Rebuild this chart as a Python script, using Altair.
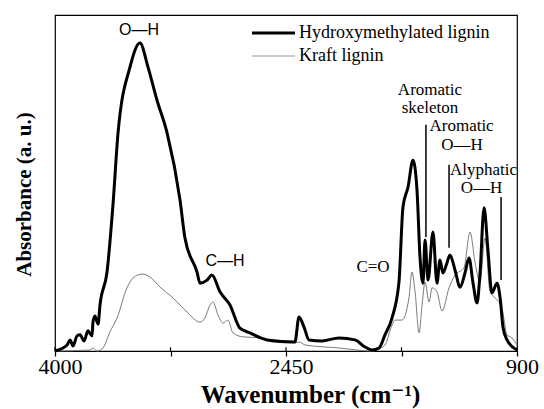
import altair as alt
import pandas as pd

# Hydroxymethylated lignin (thick)
hm_wn = [4000, 3919, 3899, 3879, 3852, 3832, 3805, 3779, 3752, 3745, 3732, 3711, 3698, 3651, 3611, 3577,
         3497, 3430, 3376, 3316, 3248, 3161, 3128, 3047, 3027, 2980, 2947, 2893, 2826, 2759, 2692,
         2577, 2390, 2363, 2329, 2296, 2208, 2094, 1987, 1920, 1873, 1826, 1786, 1739, 1692, 1665,
         1631, 1598, 1571, 1551, 1531, 1517, 1497, 1464, 1437, 1417, 1397, 1370, 1350, 1316, 1282,
         1249, 1222, 1195, 1168, 1148, 1121, 1095, 1068, 1034, 1014, 994, 967, 900]
hm_abs = [0.0, 0.018, 0.033, 0.015, 0.045, 0.048, 0.030, 0.060, 0.045, 0.086, 0.104, 0.080, 0.137, 0.235, 0.435, 0.649,
          0.845, 0.917, 0.845, 0.747, 0.649, 0.449, 0.336, 0.235, 0.202, 0.211, 0.226, 0.176, 0.137, 0.068, 0.054,
          0.033, 0.027, 0.101, 0.071, 0.033, 0.030, 0.039, 0.033, 0.012, 0.003, 0.009, 0.048, 0.098, 0.205, 0.429,
          0.488, 0.568, 0.479, 0.280, 0.202, 0.330, 0.211, 0.354, 0.202, 0.271, 0.232, 0.262, 0.286, 0.241, 0.190,
          0.232, 0.277, 0.202, 0.143, 0.232, 0.426, 0.301, 0.173, 0.202, 0.161, 0.071, 0.033, 0.003]

# Kraft lignin (thin)
kl_wn = [4000, 3765, 3745, 3718, 3678, 3631, 3584, 3517, 3477, 3416, 3362, 3295, 3208, 3114, 3027, 2994,
         2960, 2940, 2906, 2873, 2839, 2806, 2739, 2624, 2544, 2390, 2363, 2322, 2094, 1873, 1786, 1739,
         1719, 1672, 1625, 1605, 1584, 1557, 1537, 1517, 1490, 1470, 1437, 1403, 1356, 1316, 1256, 1215,
         1182, 1148, 1115, 1081, 1034, 1001, 967, 934, 913, 900]
kl_abs = [0.0, 0.003, 0.009, 0.0, 0.009, 0.057, 0.098, 0.188, 0.217, 0.229, 0.220, 0.190, 0.158, 0.116, 0.086, 0.098,
          0.137, 0.146, 0.107, 0.083, 0.092, 0.054, 0.042, 0.039, 0.027, 0.024, 0.027, 0.018, 0.009, 0.0, 0.018, 0.077,
          0.092, 0.092, 0.158, 0.235, 0.176, 0.054, 0.137, 0.205, 0.146, 0.188, 0.176, 0.119, 0.188, 0.226, 0.247, 0.354,
          0.265, 0.205, 0.336, 0.176, 0.152, 0.128, 0.048, 0.039, 0.027, 0.018]

tick_vals = [4000, 3225, 2450, 1675, 900]

sans_labels = ["O\u2014H", "C\u2014H"]
sans_wn = [3436, 2859]
sans_abs = [0.955, 0.268]

serif_labels = ["C=O", "Aromatic", "skeleton", "Aromatic", "O\u2014H", "Alyphatic", "O\u2014H"]
serif_wn = [1866, 1484, 1484, 1272, 1269, 1125, 1138]
serif_abs = [0.25, 0.777, 0.723, 0.670, 0.612, 0.539, 0.485]

rule_wn = [1511, 1356, 1007]
rule_top = [0.673, 0.554, 0.458]
rule_bot = [0.339, 0.307, 0.211]

SERIF = "'Liberation Serif', 'Times New Roman', 'DejaVu Serif', serif"
SANS = "'Liberation Sans', Arial, sans-serif"

hm = pd.DataFrame({"wn": hm_wn, "a": hm_abs})
kl = pd.DataFrame({"wn": kl_wn, "a": kl_abs})
ticks_df = pd.DataFrame({"wn": tick_vals, "y0": [0.0] * len(tick_vals), "y1": [0.011] * len(tick_vals)})

xscale = alt.Scale(domain=[900, 4000], reverse=True, nice=False, zero=False)
yscale = alt.Scale(domain=[0, 1], nice=False)

xaxis = alt.Axis(values=tick_vals,
                 labelExpr="(datum.value==3225||datum.value==1675) ? '' : datum.label",
                 format="d", labelFont=SERIF, labelFontSize=22, labelColor="black",
                 labelFlush=False, labelPadding=0, labelOffset=5, tickSize=5, tickColor="black",
                 tickWidth=1.2, domainColor="black", grid=False,
                 title="Wavenumber (cm\u207B\u00B9)", titleFont=SERIF, titleFontSize=25,
                 titleFontWeight="bold", titleColor="black",
                 titleX=255, titleY=51, titleAlign="center", titleBaseline="alphabetic")
yaxis = alt.Axis(labels=False, ticks=False, domain=False, grid=False,
                 title="Absorbance (a. u.)", titleFont=SERIF, titleFontSize=21,
                 titleFontWeight="bold", titleColor="black",
                 titleX=-31, titleY=179, titleAlign="center", titleBaseline="middle", titleAngle=270)

kl_line = alt.Chart(kl).mark_line(color="#7a7a7a", strokeWidth=1, interpolate="monotone").encode(
    x=alt.X("wn:Q", scale=xscale, axis=xaxis),
    y=alt.Y("a:Q", scale=yscale, axis=yaxis),
    order=alt.Order("wn:Q", sort="descending"),
)
hm_line = alt.Chart(hm).mark_line(color="black", strokeWidth=3, strokeJoin="round",
                                  interpolate="monotone").encode(
    x=alt.X("wn:Q", scale=xscale),
    y=alt.Y("a:Q", scale=yscale),
    order=alt.Order("wn:Q", sort="descending"),
)
inner_ticks = alt.Chart(ticks_df).mark_rule(color="black", strokeWidth=1.2).encode(
    x=alt.X("wn:Q", scale=xscale), y=alt.Y("y0:Q", scale=yscale), y2="y1:Q")

sans_df = pd.DataFrame({"t": sans_labels, "wn": sans_wn, "a": sans_abs})
serif_df = pd.DataFrame({"t": serif_labels, "wn": serif_wn, "a": serif_abs})
rule_df = pd.DataFrame({"wn": rule_wn, "a1": rule_top, "a2": rule_bot})

sans_txt = alt.Chart(sans_df).mark_text(font=SANS, fontSize=16, color="black",
                                        align="center", baseline="middle").encode(
    x=alt.X("wn:Q", scale=xscale), y=alt.Y("a:Q", scale=yscale), text="t:N")
serif_txt = alt.Chart(serif_df).mark_text(font=SERIF, fontSize=17, color="black",
                                          align="center", baseline="middle").encode(
    x=alt.X("wn:Q", scale=xscale), y=alt.Y("a:Q", scale=yscale), text="t:N")
rules = alt.Chart(rule_df).mark_rule(color="black", strokeWidth=1.5).encode(
    x=alt.X("wn:Q", scale=xscale), y=alt.Y("a1:Q", scale=yscale), y2="a2:Q")

# manual legend
leg_names = ["Hydroxymethylated lignin", "Kraft lignin"]
leg_df = pd.DataFrame({"name": leg_names, "row": [0, 1]})
leg_hm = alt.Chart(leg_df[leg_df.row == 0]).mark_rule(color="black", strokeWidth=3).encode(
    x=alt.value(197), x2=alt.value(240), y=alt.value(18))
leg_kl = alt.Chart(leg_df[leg_df.row == 1]).mark_rule(color="#9a9a9a", strokeWidth=1.2).encode(
    x=alt.value(197), x2=alt.value(240), y=alt.value(41))
leg_t1 = alt.Chart(leg_df[leg_df.row == 0]).mark_text(font=SERIF, fontSize=18, color="black",
                                                      align="left", baseline="middle").encode(
    x=alt.value(244), y=alt.value(18), text="name:N")
leg_t2 = alt.Chart(leg_df[leg_df.row == 1]).mark_text(font=SERIF, fontSize=18, color="black",
                                                      align="left", baseline="middle").encode(
    x=alt.value(244), y=alt.value(41), text="name:N")

chart = alt.layer(kl_line, hm_line, inner_ticks, rules, sans_txt, serif_txt,
                  leg_hm, leg_kl, leg_t1, leg_t2).properties(
    width=462, height=336,
    autosize=alt.AutoSizeParams(type="none"),
    padding={"left": 55, "top": 15, "right": 27, "bottom": 58},
    background="white",
).configure_view(stroke="black", strokeWidth=1.2)

chart.save("out.html", embed_options={"renderer": "svg", "actions": False})
